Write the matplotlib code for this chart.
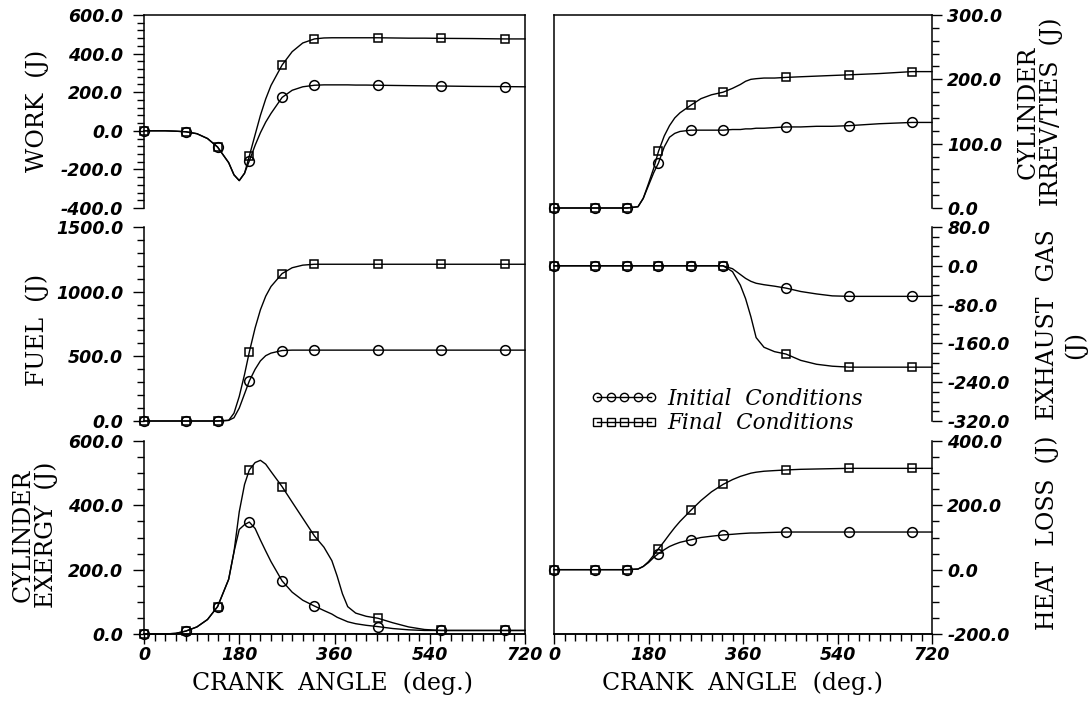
import matplotlib
matplotlib.use("Agg")
import matplotlib.pyplot as plt
from matplotlib.ticker import MultipleLocator, FormatStrFormatter
from matplotlib.lines import Line2D

# crank angle grid (deg), markers sit on MARK_CA
CA = [0, 20, 40, 60, 79, 100, 120, 139, 160, 170, 180, 190, 199, 210, 220, 230, 240, 261, 280,
      300, 322, 340, 355, 365, 375, 385, 400, 420, 442, 470, 500, 530, 562, 620, 682, 720]
MARK_CA = [0, 79, 139, 199, 261, 322, 442, 562, 682]

work_init = [0, 0, 0, -2, -5, -15, -40, -84, -165, -228, -258, -220, -156, -75, -10, 45, 90, 173, 210,
             228, 236, 238, 238, 238, 238, 238, 237, 237, 236, 235, 234, 233, 232, 230, 229, 228]
work_final = [0, 0, 0, -2, -5, -15, -40, -84, -165, -228, -258, -220, -131, -20, 80, 165, 235, 341, 410,
              455, 476, 481, 482, 482, 482, 482, 482, 482, 482, 481, 480, 480, 479, 478, 476, 476]

fuel_init = [0, 0, 0, 0, 0, 0, 0, 0, 5, 25, 100, 210, 309, 400, 465, 505, 525, 545, 548,
             548, 548, 548, 548, 548, 548, 548, 548, 548, 548, 548, 548, 548, 548, 548, 548, 548]
fuel_final = [0, 0, 0, 0, 0, 0, 0, 0, 5, 60, 190, 360, 533, 720, 860, 965, 1040, 1140, 1185,
              1205, 1212, 1212, 1212, 1212, 1212, 1212, 1212, 1212, 1212, 1212, 1212, 1212, 1212, 1212, 1212, 1212]

exergy_init = [0, 0, 0, 2, 9, 22, 45, 85, 170, 255, 325, 340, 348, 328, 292, 258, 225, 165, 130,
               105, 87, 73, 62, 52, 45, 38, 32, 27, 23, 17, 13, 11, 11, 11, 11, 11]
exergy_final = [0, 0, 0, 2, 9, 22, 45, 85, 170, 255, 380, 465, 510, 533, 540, 528, 505, 458, 410,
                360, 305, 270, 228, 180, 125, 85, 65, 55, 49, 35, 22, 14, 11, 11, 11, 11]

irrev_init = [0, 0, 0, 0, 0, 0, 0, 0, 2, 15, 35, 55, 70, 95, 110, 116, 119, 121, 121,
              121, 121, 122, 122, 123, 123, 124, 124, 125, 126, 126, 127, 127, 128, 131, 133, 133]
irrev_final = [0, 0, 0, 0, 0, 0, 0, 0, 2, 15, 38, 62, 88, 112, 128, 140, 148, 160, 170,
               176, 180, 186, 192, 197, 200, 201, 202, 202, 203, 204, 205, 206, 207, 209, 212, 212]

exhaust_init = [0, 0, 0, 0, 0, 0, 0, 0, 0, 0, 0, 0, 0, 0, 0, 0, 0, 0, 0,
                0, 0, -6, -18, -26, -32, -36, -39, -42, -46, -53, -58, -62, -63, -63, -63, -63]
exhaust_final = [0, 0, 0, 0, 0, 0, 0, 0, 0, 0, 0, 0, 0, 0, 0, 0, 0, 0, 0,
                 0, 0, -12, -40, -68, -105, -148, -168, -177, -182, -195, -203, -207, -209, -209, -209, -209]

heat_init = [0, 0, 0, 0, 0, 0, 0, 0, 2, 10, 22, 38, 50, 62, 72, 79, 85, 93, 100,
             104, 108, 110, 112, 113, 114, 114, 115, 116, 117, 117, 117, 117, 117, 117, 117, 117]
heat_final = [0, 0, 0, 0, 0, 0, 0, 0, 2, 10, 25, 45, 65, 88, 110, 131, 150, 185, 215,
              242, 265, 280, 290, 295, 300, 303, 306, 308, 310, 312, 313, 314, 315, 315, 315, 315]

W, H = 1090, 704
fig = plt.figure(figsize=(W / 100, H / 100), dpi=100)

TICKFONT = dict(family='DejaVu Sans', weight='bold', style='italic', size=12.5)
LABFONT = dict(family='DejaVu Serif', size=17)

cols = {'left': (144, 525), 'right': (554, 932)}
rows = [(15, 208), (227, 421), (441, 634)]

# (column, row, initial, final, ylim, major, minor)
panels = [
    ('left', 0, work_init, work_final, (-400, 600), 200, 40),
    ('left', 1, fuel_init, fuel_final, (0, 1500), 500, 100),
    ('left', 2, exergy_init, exergy_final, (0, 600), 200, 50),
    ('right', 0, irrev_init, irrev_final, (0, 300), 100, 20),
    ('right', 1, exhaust_init, exhaust_final, (-320, 80), 80, 20),
    ('right', 2, heat_init, heat_final, (-200, 400), 200, 50),
]

mark = [CA.index(v) for v in MARK_CA]

def add_ax(x0, x1, y0, y1):
    return fig.add_axes([x0 / W, 1 - y1 / H, (x1 - x0) / W, (y1 - y0) / H])

# outer frame of each column (continuous edges)
for name, (x0, x1) in cols.items():
    fr = add_ax(x0, x1, rows[0][0], rows[2][1])
    fr.patch.set_visible(False)
    fr.set_xticks([])
    fr.set_yticks([])
    for s in fr.spines.values():
        s.set_linewidth(1.1)
    if name == 'left':
        fr.spines['left'].set_visible(False)
    else:
        fr.spines['right'].set_visible(False)

for name, r, yi, yf, ylim, major, minor in panels:
    x0, x1 = cols[name]
    y0, y1 = rows[r]
    ax = add_ax(x0, x1, y0, y1)
    ax.patch.set_visible(False)
    ax.plot(CA, yi, color='k', lw=1.0, marker='o', ms=7, mfc='none', mec='k', mew=1.1,
            markevery=mark, clip_on=False)
    ax.plot(CA, yf, color='k', lw=1.0, marker='s', ms=6.2, mfc='none', mec='k', mew=1.1,
            markevery=mark, clip_on=False)
    ax.set_xlim(0, 720)
    ax.set_ylim(*ylim)
    ax.yaxis.set_major_locator(MultipleLocator(major))
    ax.yaxis.set_minor_locator(MultipleLocator(minor))
    ax.yaxis.set_major_formatter(FormatStrFormatter('%.1f'))
    ax.spines['top'].set_visible(False)
    for s in ax.spines.values():
        s.set_linewidth(1.1)
    if name == 'left':
        ax.spines['right'].set_visible(False)
        ax.tick_params(axis='y', which='both', direction='out', width=1.0, pad=7)
        ax.tick_params(axis='y', which='major', length=8)
    else:
        ax.spines['left'].set_visible(False)
        ax.yaxis.tick_right()
        ax.tick_params(axis='y', which='both', direction='out', width=1.0, pad=4)
        ax.tick_params(axis='y', which='major', length=7)
    ax.tick_params(axis='y', which='minor', length=5)
    if r < 2:
        ax.spines['bottom'].set_visible(False)
        ax.set_xticks([])
    else:
        ax.xaxis.set_major_locator(MultipleLocator(180))
        ax.xaxis.set_minor_locator(MultipleLocator(20))
        ax.tick_params(axis='x', which='major', direction='out', length=7, width=1.0, pad=2)
        ax.tick_params(axis='x', which='minor', direction='out', length=5, width=1.0)
        for t in ax.get_xticklabels():
            t.set(**TICKFONT)
    for t in ax.get_yticklabels():
        t.set(**TICKFONT)

def ftext(px, py, s, **kw):
    fig.text(px / W, 1 - py / H, s, rotation=90, ha='center', va='center',
             multialignment='center', linespacing=1.0, **LABFONT, **kw)

ftext(37, 111, 'WORK  (J)')
ftext(37, 330, 'FUEL  (J)')
ftext(35, 535, 'CYLINDER\nEXERGY  (J)')
ftext(1040, 112, 'CYLINDER\nIRREV/TIES  (J)')
ftext(1047, 325, 'EXHAUST  GAS')
ftext(1075, 345, '(J)')
ftext(1047, 533, 'HEAT  LOSS  (J)')

fig.text(333 / W, 1 - 683 / H, 'CRANK  ANGLE  (deg.)', ha='center', va='center', **LABFONT)
fig.text(742 / W, 1 - 683 / H, 'CRANK  ANGLE  (deg.)', ha='center', va='center', **LABFONT)

handles = [Line2D([], [], color='k', lw=1.0, marker='o', ms=6, mfc='none', mec='k', mew=1.0),
           Line2D([], [], color='k', lw=1.0, marker='s', ms=5.5, mfc='none', mec='k', mew=1.0)]
fig.legend(handles, ['Initial  Conditions', 'Final  Conditions'], loc='upper left',
           bbox_to_anchor=(591 / W, 1 - 388 / H), frameon=False, numpoints=5,
           handlelength=3.1, handletextpad=0.45, labelspacing=0.1, borderpad=0,
           borderaxespad=0, prop=dict(family='DejaVu Serif', style='italic', size=15.5))

fig.savefig('out.png', dpi=100)
